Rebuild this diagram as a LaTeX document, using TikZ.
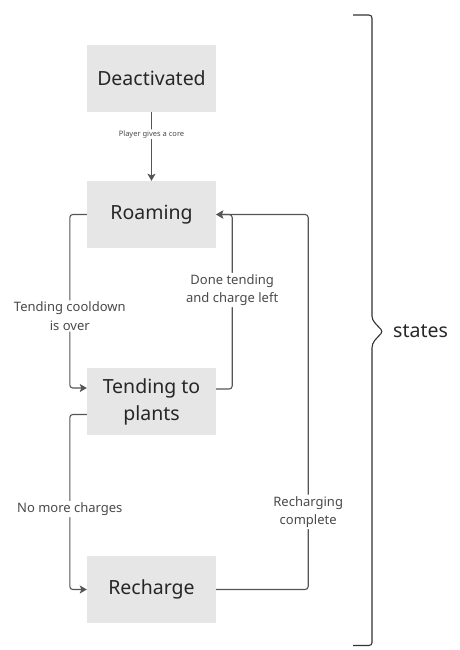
\documentclass[tikz,border=0pt]{standalone}
\usepackage{fontspec}
\setmainfont{Noto Sans}
\usetikzlibrary{arrows.meta,calc}
\definecolor{boxgray}{HTML}{E6E6E6}
\definecolor{textdark}{HTML}{262626}
\definecolor{linegray}{HTML}{555555}
\definecolor{lblgray}{HTML}{4A4A4A}
\definecolor{bracegray}{HTML}{333333}
\tikzset{
  statebox/.style={fill=boxgray, draw=none, minimum width=129pt, minimum height=67pt,
    inner sep=0pt, align=center, text=textdark, font=\fontsize{19.5}{27}\selectfont},
  edge/.style={draw=linegray, line width=1.1pt, rounded corners=3pt,
    -{Stealth[length=7pt,width=8pt,inset=1.5pt]}},
  lbl/.style={fill=white, text=lblgray, inner sep=1.5pt, align=center,
    font=\fontsize{13}{18.3}\selectfont},
  smalllbl/.style={fill=white, text=lblgray, inner sep=1pt,
    font=\fontsize{7.5}{9}\selectfont},
}
\begin{document}
\begin{tikzpicture}[x=1pt,y=-1pt]
\useasboundingbox (0,0) rectangle (460,650);

\node[statebox] (deact) at (151.5,78.5) {Deactivated};
\node[statebox] (roam) at (151.5,214.5) {Roaming};
\node[statebox] (tend) at (151.5,401.5) {Tending to\\plants};
\node[statebox] (rech) at (151.5,589.5) {Recharge};

% Deactivated -> Roaming
\draw[edge] (deact) -- node[smalllbl, pos=0.32] {Player gives a core} (roam);

% Roaming -> Tending
\coordinate (r1) at ($(roam.west)+(-17,0)$);
\coordinate (t1) at ($(tend.west)+(0,-13.5)$);
\coordinate (t1o) at ($(tend.west)+(-17,-13.5)$);
\draw[edge] (roam.west) -- (r1) -- node[lbl, pos=0.585] {Tending cooldown\\is over} (t1o) -- (t1);

% Tending -> Roaming
\coordinate (t2) at ($(tend.east)+(0,-12.5)$);
\coordinate (t2o) at ($(tend.east)+(16,-12.5)$);
\coordinate (r2o) at ($(roam.east)+(16,0)$);
\draw[edge] (t2) -- (t2o) -- node[lbl, pos=0.567] {Done tending\\and charge left} (r2o) -- (roam.east);

% Tending -> Recharge
\coordinate (t3) at ($(tend.west)+(0,13)$);
\coordinate (t3o) at ($(tend.west)+(-17,13)$);
\coordinate (c1o) at ($(rech.west)+(-17,0)$);
\draw[edge] (t3) -- (t3o) -- node[lbl, pos=0.54] {No more charges} (c1o) -- (rech.west);

% Recharge -> Roaming
\coordinate (c2o) at ($(rech.east)+(92,0)$);
\coordinate (r3o) at ($(roam.east)+(92,0)$);
\draw[edge] (rech.east) -- (c2o) -- node[lbl, pos=0.207] {Recharging\\complete} (r3o) -- (roam.east);

% Brace
\draw[bracegray, line width=1.1pt, rounded corners=3pt]
  (353,15) -- (372,15) -- (372,313)
  .. controls (372,321) and (376,324) .. (383,331.5)
  .. controls (376,339) and (372,342) .. (372,351)
  -- (372,645.5) -- (353,645.5);
\node[anchor=west, text=textdark, inner sep=0pt, font=\fontsize{19.5}{24}\selectfont] (states) at (393,331) {states};
\end{tikzpicture}
\end{document}
